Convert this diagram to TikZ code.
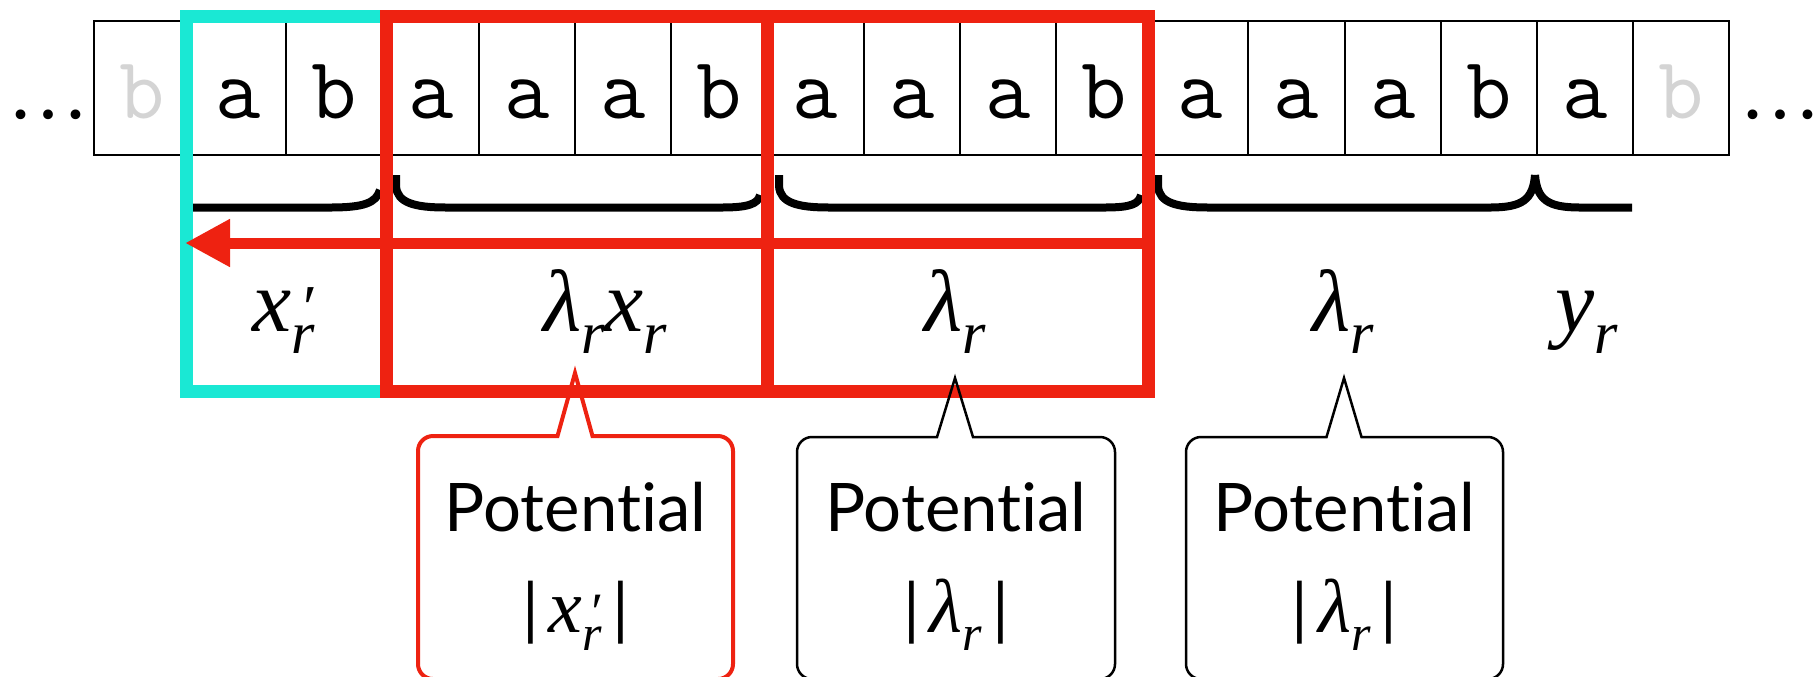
\documentclass[tikz,border=0pt]{standalone}
\usepackage{fontspec}
\usetikzlibrary{arrows.meta}
\newfontfamily\serf{Liberation Serif}
\newfontfamily\latof{Lato}[Ligatures=NoCommon]
\definecolor{myred}{RGB}{238,34,17}
\definecolor{mycyan}{RGB}{26,232,212}
\definecolor{lightgr}{RGB}{212,212,212}
\newcommand\lab{\serf\itshape\fontsize{44pt}{48pt}\selectfont}
\newcommand\lsub[1]{\raisebox{-11pt}{\fontsize{30pt}{30pt}\selectfont #1}}
\newcommand\lpr[1]{\rlap{\kern4pt\raisebox{1pt}{\fontsize{32pt}{32pt}\selectfont ′}}\lsub{#1}}
\newcommand\cmath{\serf\itshape\fontsize{38pt}{40pt}\selectfont}
\newcommand\csub[1]{\raisebox{-9pt}{\fontsize{25pt}{25pt}\selectfont #1}}
\newcommand\cpr[1]{\rlap{\kern3pt\raisebox{1pt}{\fontsize{27pt}{27pt}\selectfont ′}}\csub{#1}}
\newcommand\callout[8]{%
  \draw[#1] (#6,#7) -- ({#6+#8},#4) -- ({#3-15},#4)
    arc[start angle=270,end angle=360,radius=15] -- (#3,{#5-15})
    arc[start angle=0,end angle=90,radius=15] -- ({#2+15},#5)
    arc[start angle=90,end angle=180,radius=15] -- (#2,{#4+15})
    arc[start angle=180,end angle=270,radius=15] -- ({#6-#8},#4) -- cycle;}
\begin{document}
\begin{tikzpicture}[x=0.5pt,y=-0.5pt,
  cell/.style={draw=black,line width=1pt,minimum width=48.1pt,minimum height=67pt,
    inner sep=0pt,text height=30pt,text depth=0pt,
    font=\ttfamily\fontsize{44pt}{44pt}\selectfont},
  dots/.style={anchor=base,inner sep=0pt,font=\serf\fontsize{41pt}{41pt}\selectfont},
  brc/.style={line width=4pt,black},
  lbl/.style={anchor=base,inner sep=0pt,font=\lab},
  pot/.style={anchor=base,inner sep=0pt,font=\latof\fontsize{33.5pt}{36pt}\selectfont},
  redcall/.style={draw=myred,line width=2pt,line join=miter},
  blkcall/.style={draw=black,line width=1.25pt,line join=miter},
  colbox/.style={line width=6.5pt}]
\useasboundingbox (0,0) rectangle (1813,676);
% tape
\foreach \col/\t [count=\i from 0] in {lightgr/b,black/a,black/b,black/a,black/a,black/a,black/b,black/a,black/a,black/a,black/b,black/a,black/a,black/a,black/b,black/a,lightgr/b}{
  \node[cell,text=\col] (c\i) at ({94+96.2*(\i+0.5)},88) {\t};
}
\node[dots] (dl) at (49,118) {…};
\node[dots] (dr) at (1780,118) {…};
% braces
\draw[brc] (192,207.5) -- (330,207.5) .. controls (364,207.5) and (376,203) .. (380,190);
\draw[brc] (396,175) -- (396,186) .. controls (397,203) and (415,207.5) .. (446,207.5) -- (722,207.5) .. controls (748,207.5) and (758,204) .. (760,195);
\draw[brc] (779,175) -- (779,186) .. controls (780,203) and (798,207.5) .. (829,207.5) -- (1105,207.5) .. controls (1131,207.5) and (1139,204) .. (1141,195);
\draw[brc] (1158,175) -- (1158,186) .. controls (1159,203) and (1177,207.5) .. (1208,207.5) -- (1490,207.5) .. controls (1522,207.5) and (1533,200) .. (1535,175);
\draw[brc] (1535,175) .. controls (1537,200) and (1548,207.5) .. (1580,207.5) -- (1632,207.5);
% boxes
\draw[colbox,mycyan] (186,16) rectangle (386,391);
\draw[colbox,myred] (386,16) rectangle (767,391);
\draw[colbox,myred] (767,16) rectangle (1148,391);
% arrow
\coordinate (arS) at (1148,243);
\coordinate (arE) at (185,243);
\draw[myred,line width=5.5pt,-{Triangle[length=22.5pt,width=22.5pt]}] (arS) -- (arE);
% labels
\node[lbl] (lx) at (284,331) {x\lpr{r}};
\node[lbl] (llx) at (605,331) {λ\lsub{r}x\lsub{r}};
\node[lbl] (ll1) at (955,331) {λ\lsub{r}};
\node[lbl] (ll2) at (1343,331) {λ\lsub{r}};
\node[lbl] (ly) at (1587,331) {y\lsub{r}};
% callouts
\callout{redcall}{418}{733}{436}{679}{575}{373}{17.5}
\callout{blkcall}{797}{1115}{437}{679}{955}{378}{18}
\callout{blkcall}{1186}{1503}{437}{679}{1344}{378}{17.5}
\node[pot] (p1) at (575.5,531) {Potential};
\node[pot] (p2) at (956,531) {Potential};
\node[pot] (p3) at (1344.5,531) {Potential};
\node[pot] (q1) at (575.5,632) {|\kern5pt{\cmath x\cpr{r}}\kern5pt|};
\node[pot] (q2) at (956,632) {|\kern5pt{\cmath λ\csub{r}}\kern5pt|};
\node[pot] (q3) at (1344.5,632) {|\kern5pt{\cmath λ\csub{r}}\kern5pt|};
\end{tikzpicture}
\end{document}
